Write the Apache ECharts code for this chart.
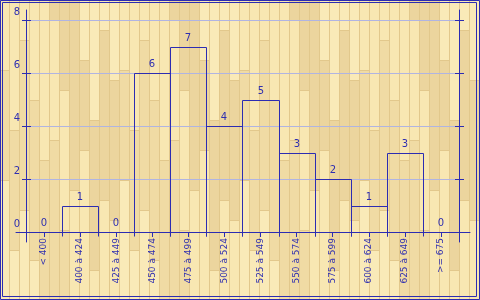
<!DOCTYPE html>
<html><head><meta charset="utf-8">
<script src="https://cdn.jsdelivr.net/npm/echarts@6/dist/echarts.min.js"></script>
<style>html,body{margin:0;padding:0;background:#f3dfa8}#c{width:480px;height:300px}</style>
</head><body><div id="c"></div>
<script>
// ---- data ----
const categories = ['< 400','400 à 424','425 à 449','450 à 474','475 à 499','500 à 524','525 à 549','550 à 574','575 à 599','600 à 624','625 à 649','>= 675'];
const counts = [0,1,0,6,7,4,5,3,2,1,3,0];
const yMin = 0, yMax = 8, yInterval = 2;

// ---- styles ----
const BLUE = '#2c2cb2';
const TEXT = '#2e2eb0';
const GRID = '#b0b4e2';
const FONT = 'DejaVu Sans';

// wood-like plank texture (fixed pattern, decorative only, few flat tones)
function woodTexture(){
  const c = document.createElement('canvas'); c.width = 120; c.height = 300;
  const g = c.getContext('2d');
  const tones = ['#f8e7b2','#f0dba4','#f9eab8','#ecd59e'];
  const seam = '#e2c88c';
  const breaks = [[0,70,180],[0,130,250],[0,40,210],[0,100,260],[0,160],[0,20,140],[0,90,230],[0,190],[0,60,150],[0,120,270],[0,30,200],[0,80,220]];
  let t = 0;
  for (let col = 0; col < 12; col++) {
    const b = breaks[col];
    for (let s = 0; s < b.length; s++) {
      const y0 = b[s], y1 = s + 1 < b.length ? b[s+1] : 300;
      g.fillStyle = tones[(t++ + col) % tones.length];
      g.fillRect(col * 10, y0, 10, y1 - y0);
      g.fillStyle = seam;
      g.fillRect(col * 10, y0, 10, 1);
    }
    g.fillStyle = seam;
    g.fillRect(col * 10 + 9, 0, 1, 300);
  }
  return c.toDataURL();
}
const el = document.getElementById('c');
el.style.backgroundImage = 'url(' + woodTexture() + ')';

const chart = echarts.init(el, null, {renderer: 'canvas'});
const hidden = {show:false};
const tickStyle = {color: BLUE, width: 1};

chart.setOption({
  animation: false,
  backgroundColor: 'transparent',
  grid: [
    {left: 26, right: 21, top: 20, bottom: 68},   // data grid
    {left: 26, right: 21, top: 10, bottom: 58},   // extended y-axis lines
    {left: 16, right: 10, top: 10, bottom: 68}    // extended x-axis line
  ],
  xAxis: [
    {gridIndex: 0, type: 'category', data: categories, boundaryGap: true,
     axisLine: hidden,
     axisTick: {show: true, alignWithLabel: true, length: 5, lineStyle: tickStyle},
     axisLabel: {interval: 0, rotate: 90, margin: 6, color: TEXT, fontFamily: FONT, fontSize: 9}},
    {gridIndex: 0, type: 'category', data: categories, boundaryGap: true,
     axisLine: hidden, axisLabel: hidden,
     axisTick: {show: true, alignWithLabel: true, inside: true, length: 4, lineStyle: tickStyle}},
    {gridIndex: 1, type: 'category', data: categories, show: false},
    {gridIndex: 2, type: 'category', data: categories, axisLine: {show: true, lineStyle: {color: BLUE, width: 1}},
     axisTick: hidden, axisLabel: hidden}
  ],
  yAxis: [
    {gridIndex: 0, type: 'value', min: yMin, max: yMax, interval: yInterval, position: 'left',
     axisLine: hidden,
     axisTick: {show: true, length: 4, lineStyle: tickStyle},
     axisLabel: {color: TEXT, fontFamily: FONT, fontSize: 10, margin: 6, verticalAlign: 'bottom', padding: [0,0,3,0]},
     splitLine: {show: true, lineStyle: {color: GRID, width: 1}}},
    {gridIndex: 0, type: 'value', min: yMin, max: yMax, interval: yInterval, position: 'left',
     axisLine: hidden, axisLabel: hidden, splitLine: hidden,
     axisTick: {show: true, inside: true, length: 5, lineStyle: tickStyle}},
    {gridIndex: 0, type: 'value', min: yMin, max: yMax, interval: yInterval, position: 'right',
     axisLine: hidden, axisLabel: hidden, splitLine: hidden,
     axisTick: {show: true, length: 5, lineStyle: tickStyle}},
    {gridIndex: 0, type: 'value', min: yMin, max: yMax, interval: yInterval, position: 'right',
     axisLine: hidden, axisLabel: hidden, splitLine: hidden,
     axisTick: {show: true, inside: true, length: 4, lineStyle: tickStyle}},
    {gridIndex: 1, type: 'value', min: 0, max: 1, position: 'left',
     axisLine: {show: true, lineStyle: {color: BLUE, width: 1}}, axisTick: hidden, axisLabel: hidden, splitLine: hidden},
    {gridIndex: 1, type: 'value', min: 0, max: 1, position: 'right',
     axisLine: {show: true, lineStyle: {color: BLUE, width: 1}}, axisTick: hidden, axisLabel: hidden, splitLine: hidden},
    {gridIndex: 2, type: 'value', min: 0, max: 1, show: false}
  ],
  series: [{
    type: 'custom',
    xAxisIndex: 0, yAxisIndex: 0,
    data: counts.map((v, i) => [i, v]),
    clip: false,
    renderItem(params, api) {
      const i = api.value(0), v = api.value(1);
      const top = api.coord([i, v]);
      const base = api.coord([i, 0]);
      const w = api.size([1, 0])[0];
      const xl = Math.round(top[0] - w / 2) + 0.5;
      const xr = Math.round(top[0] + w / 2) + 0.5;
      const yt = Math.round(top[1]) + 0.5;
      const yb = Math.round(base[1]) + 4.5;
      const children = [];
      if (v > 0) {
        children.push({type: 'polyline', shape: {points: [[xl, yb], [xl, yt], [xr, yt], [xr, yb]]},
          style: {stroke: BLUE, fill: null, lineWidth: 1}});
      }
      children.push({type: 'text', x: Math.round(top[0]), y: Math.round(top[1]) - 4,
        style: {text: String(v), align: 'center', verticalAlign: 'bottom', fill: TEXT,
                font: '10px "' + FONT + '"'}});
      return {type: 'group', children};
    }
  }],
  graphic: [
    {type: 'rect', silent: true, shape: {x: 0.5, y: 0.5, width: 479, height: 299}, style: {fill: null, stroke: BLUE, lineWidth: 1}},
    {type: 'rect', silent: true, shape: {x: 2.5, y: 2.5, width: 474, height: 294}, style: {fill: null, stroke: BLUE, lineWidth: 1}}
  ]
});
</script></body></html>
